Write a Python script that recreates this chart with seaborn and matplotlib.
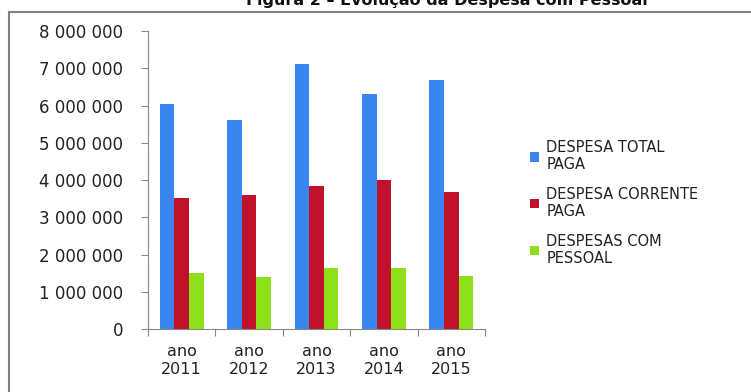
import pandas as pd
import matplotlib.pyplot as plt
import seaborn as sns
from matplotlib.patches import Rectangle
from matplotlib.ticker import FuncFormatter

years = ['ano\n2011', 'ano\n2012', 'ano\n2013', 'ano\n2014', 'ano\n2015']
series = ['DESPESA TOTAL\nPAGA', 'DESPESA CORRENTE\nPAGA', 'DESPESAS COM\nPESSOAL']
despesa_total = [6030000, 5600000, 7110000, 6320000, 6680000]
despesa_corrente = [3520000, 3590000, 3830000, 3990000, 3670000]
despesas_pessoal = [1500000, 1400000, 1650000, 1650000, 1430000]
colors = ['#3a86f0', '#c0122a', '#8ee01a']

df = pd.DataFrame({
    'ano': years * 3,
    'serie': [s for s in series for _ in years],
    'valor': despesa_total + despesa_corrente + despesas_pessoal,
})

sns.set_style('white')
plt.rcParams['font.family'] = ['DejaVu Sans']

fig = plt.figure(figsize=(7.51, 3.92), dpi=100)
ax = fig.add_axes([148 / 751, 1 - 329 / 392, (485 - 148) / 751, (329 - 31) / 392])

sns.barplot(data=df, x='ano', y='valor', hue='serie', palette=colors,
            width=0.65, saturation=1, ax=ax, gap=0, linewidth=0, edgecolor='none')

ax.set_ylim(0, 8000000)
ax.set_yticks(range(0, 8000001, 1000000))
ax.yaxis.set_major_formatter(FuncFormatter(lambda v, p: f'{int(v):,}'.replace(',', ' ')))
ax.set_xlim(-0.5, 4.5)
ax.set_xlabel('')
ax.set_ylabel('')
ax.set_xticks([x + 0.5 for x in range(-1, 5)], minor=True)
ax.tick_params(axis='x', which='minor', length=5, color='#888888', width=0.8, direction='out')
ax.tick_params(axis='x', which='major', length=0, labelsize=11.5, pad=11, labelcolor='#222222')
ax.tick_params(axis='y', length=5, color='#888888', width=0.8, direction='out', labelsize=12, pad=13, labelcolor='#222222')
ax.tick_params(bottom=True, left=True, which='both')
for s in ['top', 'right']:
    ax.spines[s].set_visible(False)
for s in ['left', 'bottom']:
    ax.spines[s].set_color('#888888')
    ax.spines[s].set_linewidth(0.8)

ax.legend(loc='center left', bbox_to_anchor=(523 / 751, 1 - 203 / 392), bbox_transform=fig.transFigure,
          frameon=False, fontsize=10.5, handlelength=0.6, handleheight=0.6, handletextpad=0.5,
          labelspacing=1.0, borderpad=0, labelcolor='#222222')

fig.patches.append(Rectangle((9 / 751, -0.1), 1.1, 1 - 12 / 392 + 0.1, transform=fig.transFigure,
                             fill=False, edgecolor='#808080', linewidth=1.5))
fig.text(447 / 751, 1 - 5 / 392, 'Figura 2 – Evolução da Despesa com Pessoal',
         ha='center', va='baseline', fontsize=11.5, fontweight='bold', color='#111111')

fig.savefig('out.png', dpi=100)
